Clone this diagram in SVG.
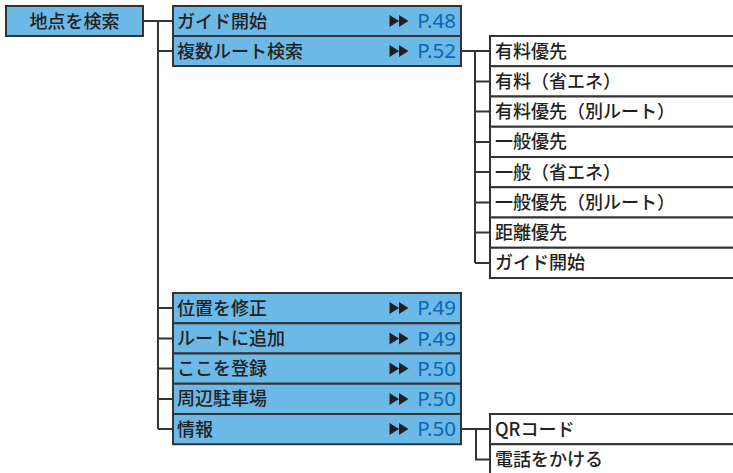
<svg xmlns="http://www.w3.org/2000/svg" xmlns:xlink="http://www.w3.org/1999/xlink" width="733" height="473" viewBox="0 0 733 473">
<style>
.b{fill:#6cb8e6;stroke:#333;stroke-width:2}
.w{fill:#fff;stroke:#333;stroke-width:2}
.t{font-family:"Noto Sans CJK JP","Noto Sans",sans-serif;font-size:18px;font-weight:500;fill:#231f20}
.p{font-family:"Noto Sans","Noto Sans CJK JP",sans-serif;font-size:20.5px;fill:#0a68b4;text-anchor:end}
.c{fill:none;stroke:#333;stroke-width:2}
</style>
<defs>
<path id="ff" d="M0,-6L9.5,0L0,6ZM9.5,-6L19,0L9.5,6Z" fill="#231f20"/>
</defs>
<g id="connectors" class="c">
<path d="M143,21H173M158,21V429.1M158,51H173M158,308.1H173M158,338.4H173M158,368.6H173M158,398.9H173M158,429.1H173"/>
<path d="M461,51.1H490M475,51.1V262.9M475,81.4H490M475,111.6H490M475,141.9H490M475,172.1H490M475,202.4H490M475,232.6H490M475,262.9H490"/>
<path d="M461,429.1H490M476,429.1V459.4H490"/>
</g>
<g id="root"><rect class="b" x="6" y="6" width="137" height="30"/><text class="t" x="74.5" y="27.5" text-anchor="middle">地点を検索</text></g>
<g id="n1"><rect class="b" x="173" y="6" width="288" height="30"/><text class="t" x="177" y="27.5">ガイド開始</text><use href="#ff" x="389.5" y="21"/><text class="p" x="456" y="28.3">P.48</text></g>
<g id="n2"><rect class="b" x="173" y="36" width="288" height="30"/><text class="t" x="177" y="57.5">複数ルート検索</text><use href="#ff" x="389.5" y="51"/><text class="p" x="456" y="58.3">P.52</text></g>
<g id="n3"><rect class="b" x="173" y="293" width="288" height="30.25"/><text class="t" x="177" y="314.6">位置を修正</text><use href="#ff" x="389.5" y="308.1"/><text class="p" x="456" y="315.4">P.49</text></g>
<g id="n4"><rect class="b" x="173" y="323.25" width="288" height="30.25"/><text class="t" x="177" y="344.9">ルートに追加</text><use href="#ff" x="389.5" y="338.4"/><text class="p" x="456" y="345.7">P.49</text></g>
<g id="n5"><rect class="b" x="173" y="353.5" width="288" height="30.25"/><text class="t" x="177" y="375.1">ここを登録</text><use href="#ff" x="389.5" y="368.6"/><text class="p" x="456" y="375.9">P.50</text></g>
<g id="n6"><rect class="b" x="173" y="383.75" width="288" height="30.25"/><text class="t" x="177" y="405.4">周辺駐車場</text><use href="#ff" x="389.5" y="398.9"/><text class="p" x="456" y="406.2">P.50</text></g>
<g id="n7"><rect class="b" x="173" y="414" width="288" height="30.25"/><text class="t" x="177" y="435.6">情報</text><use href="#ff" x="389.5" y="429.1"/><text class="p" x="456" y="436.4">P.50</text></g>
<g id="r1"><rect class="w" x="490" y="36" width="260" height="30.25"/><text class="t" x="495" y="57.6">有料優先</text></g>
<g id="r2"><rect class="w" x="490" y="66.25" width="260" height="30.25"/><text class="t" x="495" y="87.9">有料（省エネ）</text></g>
<g id="r3"><rect class="w" x="490" y="96.5" width="260" height="30.25"/><text class="t" x="495" y="118.1">有料優先（別ルート）</text></g>
<g id="r4"><rect class="w" x="490" y="126.75" width="260" height="30.25"/><text class="t" x="495" y="148.4">一般優先</text></g>
<g id="r5"><rect class="w" x="490" y="157" width="260" height="30.25"/><text class="t" x="495" y="178.6">一般（省エネ）</text></g>
<g id="r6"><rect class="w" x="490" y="187.25" width="260" height="30.25"/><text class="t" x="495" y="208.9">一般優先（別ルート）</text></g>
<g id="r7"><rect class="w" x="490" y="217.5" width="260" height="30.25"/><text class="t" x="495" y="239.1">距離優先</text></g>
<g id="r8"><rect class="w" x="490" y="247.75" width="260" height="30.25"/><text class="t" x="495" y="269.4">ガイド開始</text></g>
<g id="q1"><rect class="w" x="490" y="414" width="260" height="30.25"/><text class="t" x="495" y="435.6">QRコード</text></g>
<g id="q2"><rect class="w" x="490" y="444.25" width="260" height="40"/><text class="t" x="495" y="465.9">電話をかける</text></g>
</svg>
